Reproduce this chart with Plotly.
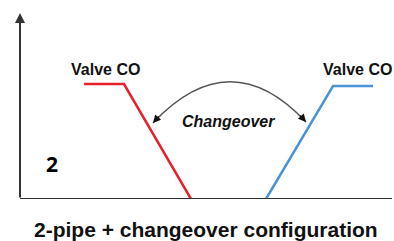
import plotly.graph_objects as go

# Schematic data (x: position along axis, y: level)
red_x = [64, 104, 171]
red_y = [115, 115, 0]
blue_x = [246, 313, 353]
blue_y = [0, 113, 113]

label_text = "Valve CO"
label_left = (85, 130)
label_right = (337, 130)
changeover_text = "Changeover"
changeover_pos = (208, 78)
curve_start = (133, 76)
curve_ctrl = (210, 158)
curve_end = (286, 77)
number_text = "2"
number_pos = (31.5, 35)
title_text = "2-pipe + changeover configuration"

X_MAX, Y_MAX = 372, 186
AXIS_COLOR = "#333333"

fig = go.Figure()
fig.add_trace(go.Scatter(x=red_x, y=red_y, mode="lines",
                         line=dict(color="#e8202a", width=2.5), hoverinfo="skip"))
fig.add_trace(go.Scatter(x=blue_x, y=blue_y, mode="lines",
                         line=dict(color="#4b93d6", width=2.5), hoverinfo="skip"))

shapes = [
    dict(type="line", xref="x", yref="y", x0=0, y0=0, x1=X_MAX, y1=0,
         line=dict(color=AXIS_COLOR, width=2)),
    dict(type="path", xref="x", yref="y",
         path=f"M {curve_start[0]},{curve_start[1]} Q {curve_ctrl[0]},{curve_ctrl[1]} {curve_end[0]},{curve_end[1]}",
         line=dict(color="#555555", width=1.3)),
]

ann = []
# y-axis with arrow
ann.append(dict(x=0, y=Y_MAX, ax=0, ay=0, xref="x", yref="y", axref="x", ayref="y",
                showarrow=True, arrowhead=2, arrowsize=1, arrowwidth=2,
                arrowcolor=AXIS_COLOR, text=""))
# curve arrowheads
ann.append(dict(x=curve_start[0], y=curve_start[1], ax=7, ay=-8, xref="x", yref="y",
                showarrow=True, arrowhead=2, arrowsize=1.2, arrowwidth=1.3,
                arrowcolor="#111111", text=""))
ann.append(dict(x=curve_end[0], y=curve_end[1], ax=-7, ay=-8, xref="x", yref="y",
                showarrow=True, arrowhead=2, arrowsize=1.2, arrowwidth=1.3,
                arrowcolor="#111111", text=""))

bold = dict(family="Liberation Sans, Arial", color="#111111")
ann.append(dict(x=label_left[0], y=label_left[1], text=f"<b>{label_text}</b>", showarrow=False,
                xref="x", yref="y", font=dict(size=16, **bold)))
ann.append(dict(x=label_right[0], y=label_right[1], text=f"<b>{label_text}</b>", showarrow=False,
                xref="x", yref="y", font=dict(size=16, **bold)))
ann.append(dict(x=changeover_pos[0], y=changeover_pos[1], text=f"<b><i>{changeover_text}</i></b>",
                showarrow=False, xref="x", yref="y", font=dict(size=16, **bold)))
ann.append(dict(x=number_pos[0], y=number_pos[1], text=f"<b>{number_text}</b>", showarrow=False,
                xref="x", yref="y", font=dict(size=21, family="Open Sans", color="#000000")))
ann.append(dict(x=0.5, y=-0.162, text=f"<b>{title_text}</b>", showarrow=False,
                xref="paper", yref="paper", yanchor="middle",
                font=dict(size=21, **bold)))

fig.update_layout(
    width=394, height=241,
    margin=dict(l=20, r=2, t=13, b=42),
    paper_bgcolor="white", plot_bgcolor="white",
    showlegend=False,
    xaxis=dict(range=[0, X_MAX], visible=False, fixedrange=True),
    yaxis=dict(range=[0, Y_MAX], visible=False, fixedrange=True),
    shapes=shapes, annotations=ann,
)
fig.write_html("out.html",
               config={"displayModeBar": False, "staticPlot": True},
               post_script="document.body.style.margin='0';document.documentElement.style.overflow='hidden';document.body.style.overflow='hidden';")
